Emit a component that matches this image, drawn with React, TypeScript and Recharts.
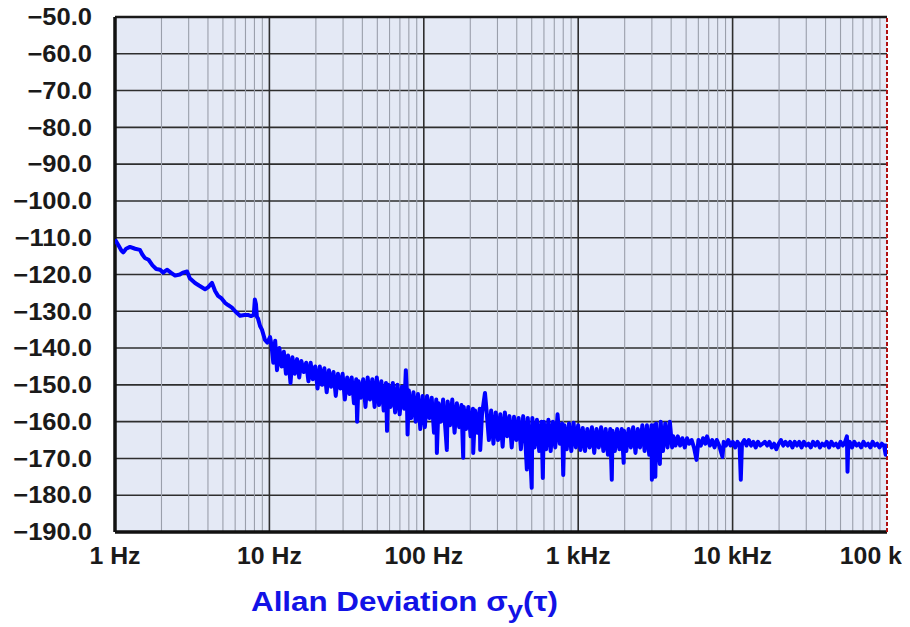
import React from "react";
import { LineChart, Line, XAxis, YAxis, CartesianGrid, ReferenceLine } from "recharts";

const freqTicks = [1, 10, 100, 1000, 10000, 100000];
const freqLabels = ["1 Hz", "10 Hz", "100 Hz", "1 kHz", "10 kHz", "100 kHz"];
const levelTicks = [-190, -180, -170, -160, -150, -140, -130, -120, -110, -100, -90, -80, -70, -60, -50];
const minorSteps = [2, 3, 4, 5, 6, 7, 8, 9];

// [Hz, dB]
const lowBand: [number, number][] = [
  [1.0, -110.5], [1.05, -112], [1.1, -113.5], [1.13, -114], [1.18, -113], [1.25, -112.5],
  [1.35, -113], [1.45, -113.3], [1.5, -114.5], [1.56, -115.5], [1.65, -116], [1.75, -117.5],
  [1.85, -118.5], [1.96, -118.7], [2.05, -119.5], [2.17, -118.7], [2.3, -119.5], [2.45, -120.3],
  [2.63, -120], [2.75, -119.5], [2.93, -119.2], [3.05, -121], [3.3, -122.3], [3.5, -123],
  [3.83, -124], [4.0, -123.5], [4.25, -122.3], [4.45, -124.5], [4.65, -125.8], [4.9, -126.5],
  [5.16, -127.7], [5.4, -128.3], [5.72, -129], [6.0, -130], [6.45, -131.2], [6.9, -131],
  [7.26, -131], [7.6, -131.3], [7.92, -131], [8.05, -126.8], [8.18, -128], [8.3, -131.5],
  [8.44, -132], [8.7, -134], [8.95, -135], [9.36, -137.8], [9.7, -138.5], [10.1, -137],
];

const midBand: [number, number][] = [
  [10.3, -139], [10.6, -144], [10.9, -138], [11.2, -146], [11.6, -140], [12.0, -145],
  [12.4, -141], [12.8, -147], [13.2, -142], [13.7, -149.5], [14.1, -142.5], [14.6, -147],
  [15.1, -143], [15.6, -148], [16.1, -143.5], [16.7, -146.5], [17.3, -144], [17.9, -149],
  [18.5, -144], [19.1, -148.5], [19.8, -145], [20.5, -151], [21.2, -145], [21.9, -150],
  [22.7, -145.5], [23.5, -152], [24.3, -146], [25.1, -150.5], [26.0, -146.5], [26.9, -153],
  [27.8, -147], [28.8, -151], [29.8, -147], [30.8, -154], [31.9, -148], [33.0, -152.5],
  [34.1, -148], [35.3, -155], [36.5, -148.5], [37.0, -160], [37.8, -149], [39.1, -153.5],
  [40.5, -148.5], [41.9, -156], [43.3, -148], [44.8, -154], [46.4, -148.5], [48.0, -156],
  [49.6, -148], [51.3, -155.5], [53.1, -149], [55.0, -157], [56.9, -149.5], [57.8, -162.5],
  [58.9, -150], [60.9, -156], [63.0, -149.5], [65.2, -157.5], [67.5, -150], [69.8, -158],
  [72.2, -150.5], [74.7, -156.5], [76.5, -146], [77.5, -151], [78.5, -163.5], [80.0, -151.5],
  [82.8, -159], [85.7, -152], [88.6, -160], [91.7, -152.5], [94.9, -162], [98.2, -153],
];

const kiloBand: [number, number][] = [
  [101.6, -161.5], [105, -153], [108.7, -159], [112.5, -153.5], [116.4, -163], [120.4, -154],
  [121.5, -168.5], [124.6, -155], [128.9, -160], [133.4, -154], [138, -162], [141, -167.7],
  [142.8, -154.5], [147.8, -161], [152.9, -154], [158.2, -163], [163.7, -155], [169.4, -161.5],
  [175.3, -155.5], [180, -169.8], [181.4, -156], [187.7, -162], [194.2, -156], [201, -164],
  [208, -156.5], [209, -168.5], [215, -157], [222.5, -163], [230.2, -156.5], [232, -167.7],
  [238.2, -158], [249, -152.2], [255, -157], [264, -165], [273, -157], [282.5, -166],
  [292.3, -157.5], [302.5, -165], [313, -158], [324, -166.8], [335, -157.5], [346.6, -164],
  [358.6, -158.5], [371, -167], [384, -158.7], [397.4, -165], [411.2, -159], [425.5, -167.5],
  [440.3, -158.5], [455.6, -166], [465, -173], [471.4, -159], [487.8, -168], [500, -178],
  [504.7, -159], [522.3, -167], [540.4, -159.5], [559.2, -168], [578.6, -160], [590, -175.3],
  [598.7, -160], [619.5, -167.5], [641, -159.5], [663.3, -168], [686.3, -160], [710.2, -167],
  [734.9, -158], [760.4, -166], [786.9, -160.5], [800, -174.5], [814.2, -161], [842.5, -167.5],
  [871.8, -160.5], [902.1, -168], [933.4, -160.3], [965.9, -167], [999.4, -161],
];

const upperBand: [number, number][] = [
  [1034, -167.7], [1070, -161.7], [1107, -168], [1146, -162], [1186, -167], [1227, -161.5],
  [1270, -168.5], [1314, -162], [1360, -167], [1407, -161.5], [1456, -168], [1506, -162],
  [1559, -169], [1613, -162], [1650, -175.8], [1669, -162.5], [1727, -168], [1787, -162],
  [1849, -167.5], [1913, -162], [1970, -171.2], [1980, -162.5], [2049, -168], [2120, -162],
  [2194, -167], [2270, -161.5], [2349, -168.5], [2431, -162], [2515, -167], [2603, -161],
  [2693, -168], [2787, -161], [2884, -169], [2984, -161], [3000, -175.8], [3088, -161],
  [3160, -175], [3195, -160.5], [3306, -168], [3380, -171.5], [3421, -160], [3540, -168],
  [3663, -160.5], [3790, -167], [3922, -160], [4058, -167], [4130, -164],
];

const tailBand: [number, number][] = [
  [4270, -166.5], [4420, -164], [4570, -166.5], [4730, -164.5], [4900, -167], [5070, -164.5],
  [5240, -166], [5430, -165], [5620, -167], [5840, -170.4], [6010, -165], [6220, -166.5],
  [6440, -164.5], [6660, -166], [6830, -164], [7130, -166.5], [7380, -165], [7640, -167],
  [7900, -165], [8180, -166.5], [8600, -169.6], [8760, -165.5], [9060, -166.5], [9380, -165],
  [9700, -166.5], [10040, -165.5], [10390, -167], [10750, -165.5], [11100, -166.5], [11300, -175.8],
  [11500, -166], [11900, -165], [12300, -166.5], [12740, -165], [13180, -166.5], [13640, -165.5],
  [14110, -167], [14600, -165.5], [15110, -166.5], [15640, -166], [16180, -165.5], [16750, -166.5],
  [17330, -165.5], [17930, -167], [18560, -166], [19200, -167.5], [19870, -166], [20560, -165],
  [21280, -166.5], [22020, -165.5], [22780, -166.5], [23580, -165.5], [24400, -167], [25240, -165.5],
  [26120, -166.5], [27030, -165.5], [27970, -167], [28940, -165.5], [29950, -166.5], [30990, -166],
  [32070, -167], [33180, -165.5], [34340, -166.5], [35530, -165.5], [36770, -167], [38050, -166],
  [39370, -166.5], [40740, -165.5], [42150, -167], [43620, -165.5], [45140, -166.5], [46710, -166],
  [48330, -167], [50010, -165.5], [51750, -166.5], [53550, -165.5], [55000, -164], [55500, -173.6],
  [56100, -166.5], [57340, -165.5], [59330, -167], [61400, -165.5], [63530, -166.5], [65740, -166],
  [68030, -167], [70400, -165.5], [72840, -166.5], [75380, -166], [78000, -167], [80710, -165.5],
  [83520, -166.5], [86420, -166], [89430, -167], [92540, -166], [95760, -166.5], [98000, -169],
  [100000, -166],
];

const trace = [...lowBand, ...midBand, ...kiloBand, ...upperBand, ...tailBand].map(([f, db]) => ({ f, db }));

const minorFreqs = freqTicks.slice(0, -1).flatMap((d) => minorSteps.map((m) => d * m));

const FONT = "'Liberation Sans', Arial, sans-serif";

function fmtLevel(v: number): string {
  return v.toFixed(1).replace("-", "\u2212");
}

// the source image is a little stretched sideways, hence the scaleX on labels
function YTick(props: any) {
  const { x, y, payload } = props;
  return (
    <g transform={`translate(${x},${y}) scale(1.11,1)`}>
      <text x={0} y={0} dy="0.36em" textAnchor="end" fontFamily={FONT} fontWeight="bold" fontSize={23} fill="#1a1a1a">
        {fmtLevel(payload.value)}
      </text>
    </g>
  );
}

function XTick(props: any) {
  const { x, y, payload } = props;
  const i = freqTicks.indexOf(payload.value);
  return (
    <g transform={`translate(${x},${y}) scale(1.08,1)`}>
      <text x={0} y={0} dy="0.71em" textAnchor="middle" fontFamily={FONT} fontWeight="bold" fontSize={23} fill="#1a1a1a">
        {freqLabels[i]}
      </text>
    </g>
  );
}

function AxisTitle(props: any) {
  const vb = props.viewBox || { x: 0, y: 0, width: 0 };
  return (
    <text
      x={vb.x + 136}
      y={vb.y + 79}
      textLength={307}
      lengthAdjust="spacingAndGlyphs"
      fontFamily={FONT}
      fontWeight="bold"
      fontSize={27}
      fill="#1212e6"
    >
      Allan Deviation σ
      <tspan dy={7} fontSize={24}>y</tspan>
      <tspan dy={-7}>(τ)</tspan>
    </text>
  );
}

export default function App() {
  return (
    <LineChart width={902} height={619} data={trace} margin={{ top: 9, right: 23, bottom: 0, left: 0 }}>
      <CartesianGrid vertical={false} stroke="#2e2e2e" strokeWidth={1.6} fill="#e4e9f5" fillOpacity={1} />
      <XAxis
        dataKey="f"
        type="number"
        scale="log"
        domain={[1, 100000]}
        ticks={freqTicks}
        allowDataOverflow
        height={95}
        tick={<XTick />}
        tickSize={0}
        tickMargin={16}
        tickLine={false}
        axisLine={false}
        label={{ content: <AxisTitle /> }}
      />
      <YAxis
        type="number"
        domain={[-190, -50]}
        ticks={levelTicks}
        width={107}
        tick={<YTick />}
        tickSize={0}
        tickMargin={23}
        tickLine={false}
        axisLine={false}
        allowDataOverflow
      />
      {minorFreqs.map((f) => (
        <ReferenceLine key={"m" + f} x={f} stroke="#9a9fab" strokeWidth={1.1} />
      ))}
      {freqTicks.slice(1, -1).map((f) => (
        <ReferenceLine key={"M" + f} x={f} stroke="#2e2e2e" strokeWidth={1.6} />
      ))}
      <ReferenceLine y={-50} stroke="#1a1a1a" strokeWidth={2.5} />
      <ReferenceLine y={-190} stroke="#111" strokeWidth={3.5} />
      <ReferenceLine x={1} stroke="#111" strokeWidth={3.5} />
      <ReferenceLine x={100000} stroke="#b01010" strokeWidth={2} strokeDasharray="4 2" />
      <Line
        type="linear"
        dataKey="db"
        stroke="#0000ff"
        strokeWidth={4}
        strokeLinejoin="round"
        dot={false}
        isAnimationActive={false}
      />
    </LineChart>
  );
}
